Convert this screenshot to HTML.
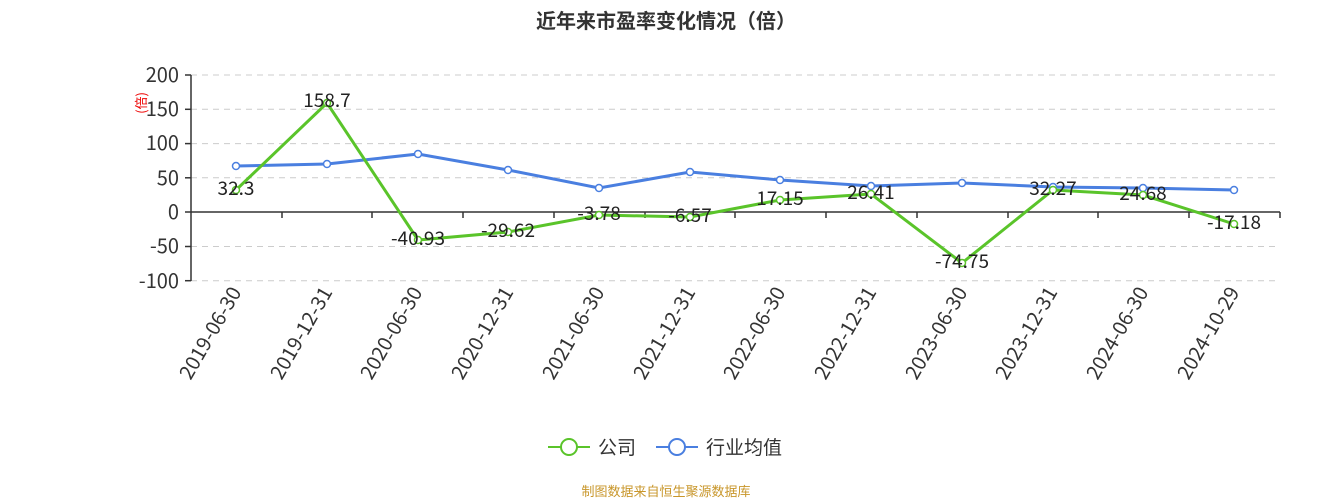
<!DOCTYPE html>
<html><head><meta charset="utf-8"><style>
body{margin:0;background:#fff;overflow:hidden;}
svg{display:block;font-family:"Noto Sans CJK SC","Liberation Sans",sans-serif;}
</style></head><body>
<svg width="1333" height="500" viewBox="0 0 1333 500">
<text x="666" y="28" text-anchor="middle" font-size="20" font-weight="bold" fill="#333">近年来市盈率变化情况（倍）</text>
<text transform="translate(146,103) rotate(-90)" text-anchor="middle" font-size="13" fill="#e00">(倍)</text>
<g stroke="#ccc" stroke-dasharray="6,5" stroke-width="1">
<line x1="191" x2="1280" y1="75" y2="75"/><line x1="191" x2="1280" y1="109.3" y2="109.3"/>
<line x1="191" x2="1280" y1="143.6" y2="143.6"/><line x1="191" x2="1280" y1="177.8" y2="177.8"/>
<line x1="191" x2="1280" y1="246.5" y2="246.5"/><line x1="191" x2="1280" y1="280.7" y2="280.7"/>
</g>
<g stroke="#333" stroke-width="1.5">
<line x1="191" x2="191" y1="75" y2="281"/>
<line x1="191" x2="1280" y1="212" y2="212"/>
<line x1="185" x2="191" y1="75" y2="75"/><line x1="185" x2="191" y1="109.3" y2="109.3"/>
<line x1="185" x2="191" y1="143.6" y2="143.6"/><line x1="185" x2="191" y1="177.8" y2="177.8"/>
<line x1="185" x2="191" y1="212" y2="212"/><line x1="185" x2="191" y1="246.5" y2="246.5"/>
<line x1="185" x2="191" y1="280.7" y2="280.7"/>
<line x1="282" x2="282" y1="212" y2="218"/><line x1="372" x2="372" y1="212" y2="218"/>
<line x1="463" x2="463" y1="212" y2="218"/><line x1="554" x2="554" y1="212" y2="218"/>
<line x1="645" x2="645" y1="212" y2="218"/><line x1="735" x2="735" y1="212" y2="218"/>
<line x1="826" x2="826" y1="212" y2="218"/><line x1="917" x2="917" y1="212" y2="218"/>
<line x1="1008" x2="1008" y1="212" y2="218"/><line x1="1098" x2="1098" y1="212" y2="218"/>
<line x1="1189" x2="1189" y1="212" y2="218"/><line x1="1280" x2="1280" y1="212" y2="218"/>
</g>
<g font-size="20" fill="#333" text-anchor="end">
<text x="179" y="82">200</text><text x="179" y="116">150</text><text x="179" y="150">100</text>
<text x="179" y="185">50</text><text x="179" y="219">0</text><text x="179" y="253">-50</text><text x="179" y="288">-100</text>
</g>
<g font-size="20" fill="#333" text-anchor="end">
<text transform="translate(242,292) rotate(-60)">2019-06-30</text>
<text transform="translate(333,292) rotate(-60)">2019-12-31</text>
<text transform="translate(423,292) rotate(-60)">2020-06-30</text>
<text transform="translate(514,292) rotate(-60)">2020-12-31</text>
<text transform="translate(605,292) rotate(-60)">2021-06-30</text>
<text transform="translate(696,292) rotate(-60)">2021-12-31</text>
<text transform="translate(786,292) rotate(-60)">2022-06-30</text>
<text transform="translate(877,292) rotate(-60)">2022-12-31</text>
<text transform="translate(968,292) rotate(-60)">2023-06-30</text>
<text transform="translate(1058,292) rotate(-60)">2023-12-31</text>
<text transform="translate(1149,292) rotate(-60)">2024-06-30</text>
<text transform="translate(1240,292) rotate(-60)">2024-10-29</text>
</g>
<polyline fill="none" stroke="#4a7fe0" stroke-width="3" points="236,166 327,164 418,154 508,170 599,188 690,172 780,180 871,186 962,183 1053,187 1143,188 1234,190"/>
<g fill="#fff" stroke="#4a7fe0" stroke-width="1.5">
<circle cx="236" cy="166" r="3.5"/><circle cx="327" cy="164" r="3.5"/><circle cx="418" cy="154" r="3.5"/><circle cx="508" cy="170" r="3.5"/><circle cx="599" cy="188" r="3.5"/><circle cx="690" cy="172" r="3.5"/><circle cx="780" cy="180" r="3.5"/><circle cx="871" cy="186" r="3.5"/><circle cx="962" cy="183" r="3.5"/><circle cx="1053" cy="187" r="3.5"/><circle cx="1143" cy="188" r="3.5"/><circle cx="1234" cy="190" r="3.5"/>
</g>
<polyline fill="none" stroke="#5ac42a" stroke-width="3" points="236,190 327,103 418,240 508,232 599,215 690,217 780,200 871,194 962,263 1053,190 1143,195 1234,224"/>
<g fill="#fff" stroke="#5ac42a" stroke-width="1.5">
<circle cx="236" cy="190" r="3.5"/><circle cx="327" cy="103" r="3.5"/><circle cx="418" cy="240" r="3.5"/><circle cx="508" cy="232" r="3.5"/><circle cx="599" cy="215" r="3.5"/><circle cx="690" cy="217" r="3.5"/><circle cx="780" cy="200" r="3.5"/><circle cx="871" cy="194" r="3.5"/><circle cx="962" cy="263" r="3.5"/><circle cx="1053" cy="190" r="3.5"/><circle cx="1143" cy="195" r="3.5"/><circle cx="1234" cy="224" r="3.5"/>
</g>
<g font-size="19" fill="#222" text-anchor="middle">
<text x="236" y="195">32.3</text><text x="327" y="107">158.7</text><text x="418" y="245">-40.93</text>
<text x="508" y="237">-29.62</text><text x="599" y="220">-3.78</text><text x="690" y="222">-6.57</text>
<text x="780" y="205">17.15</text><text x="871" y="199">26.41</text><text x="962" y="268">-74.75</text>
<text x="1053" y="195">32.27</text><text x="1143" y="200">24.68</text><text x="1234" y="229">-17.18</text>
</g>
<line x1="548" x2="590" y1="447" y2="447" stroke="#5ac42a" stroke-width="2"/>
<circle cx="569" cy="447" r="8" fill="#fff" stroke="#5ac42a" stroke-width="2"/>
<text x="598" y="454" font-size="19" fill="#333">公司</text>
<line x1="656" x2="698" y1="447" y2="447" stroke="#4a7fe0" stroke-width="2"/>
<circle cx="677" cy="447" r="8" fill="#fff" stroke="#4a7fe0" stroke-width="2"/>
<text x="706" y="454" font-size="19" fill="#333">行业均值</text>
<text x="666" y="496" text-anchor="middle" font-size="13" fill="#c8962a">制图数据来自恒生聚源数据库</text>
</svg>
</body></html>
